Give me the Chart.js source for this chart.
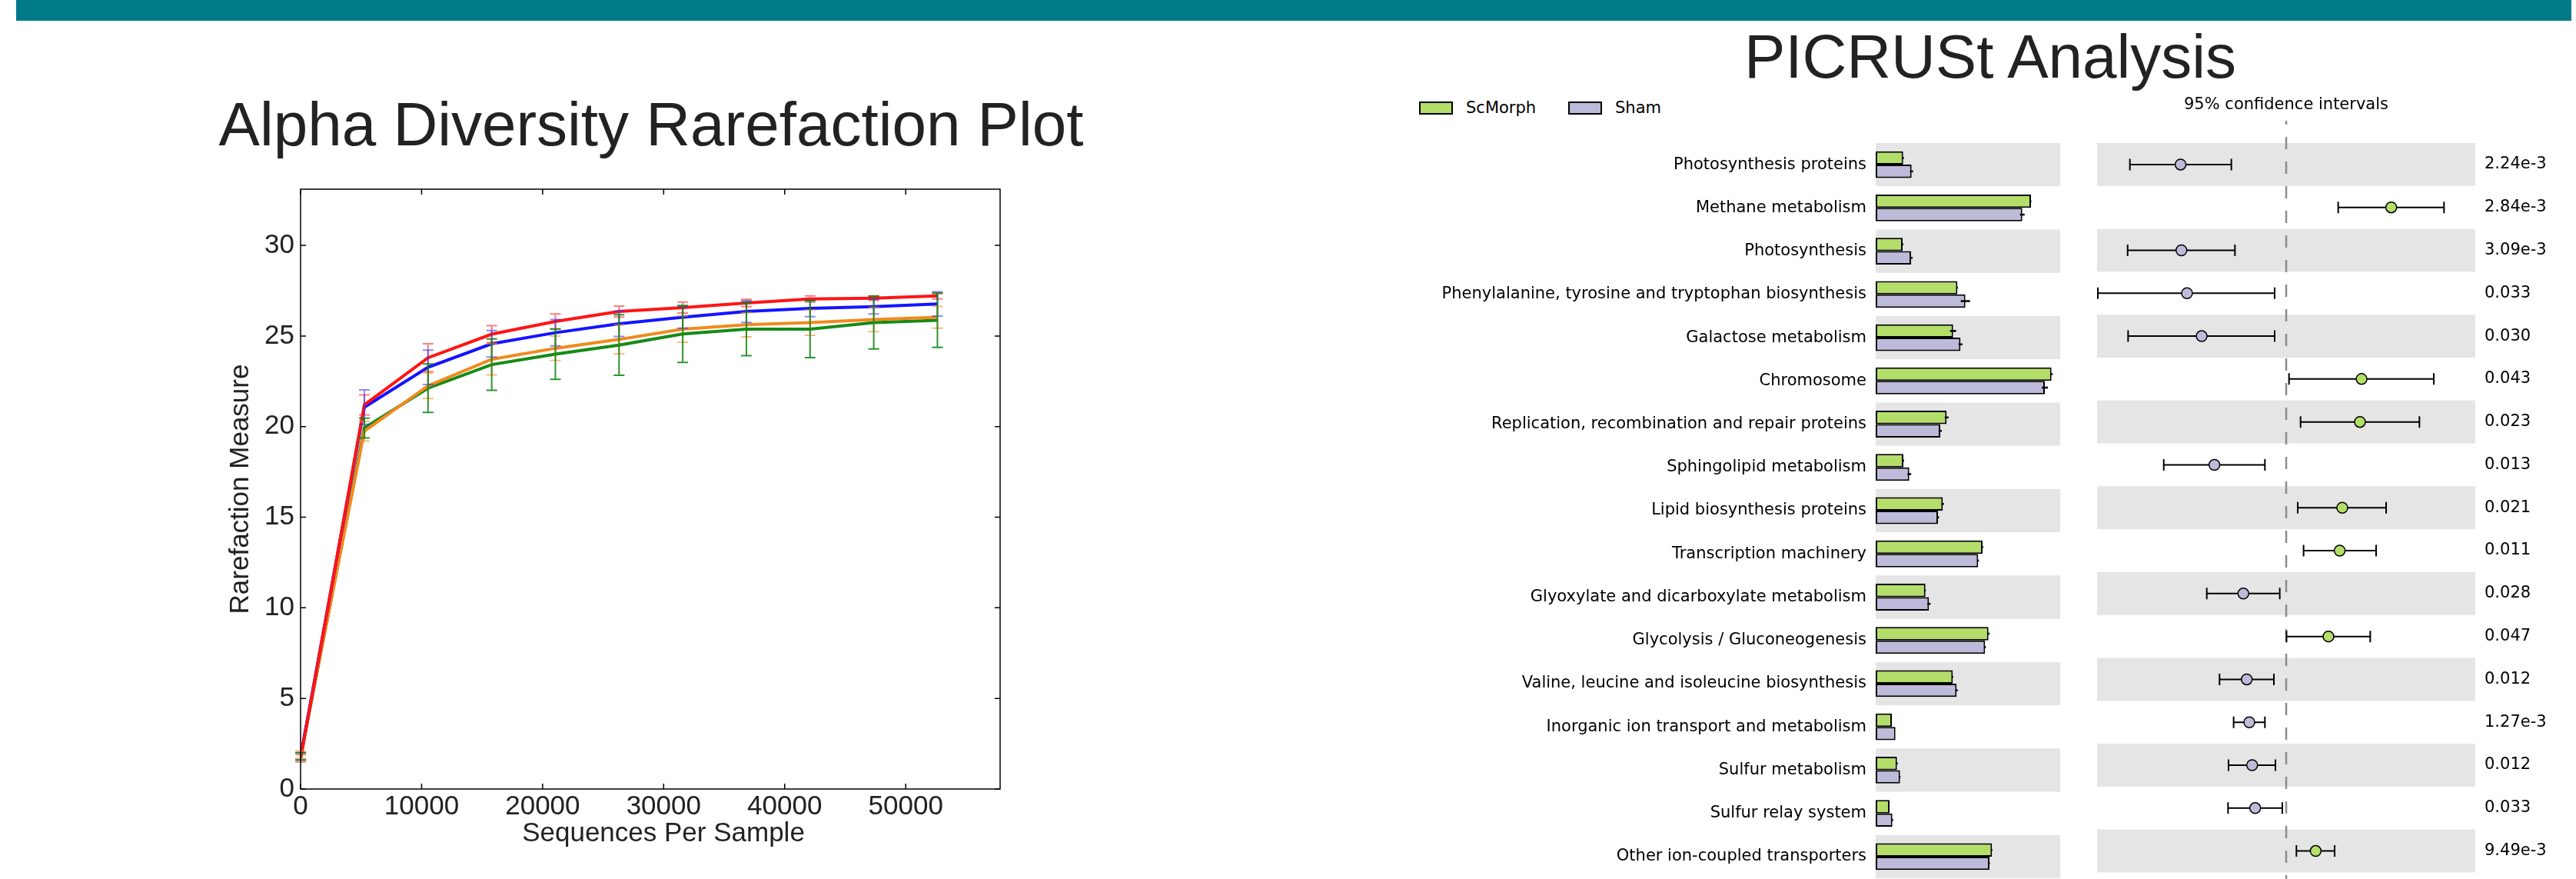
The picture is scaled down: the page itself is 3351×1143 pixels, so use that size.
<!DOCTYPE html>
<html>
<head>
<meta charset="utf-8">
<script src="https://cdn.jsdelivr.net/npm/chart.js@4.4.1/dist/chart.umd.min.js"></script>
<style>
  html, body { margin: 0; padding: 0; background: #fff; }
  body { width: 3351px; height: 1143px; position: relative; overflow: hidden; }
  .abs { position: absolute; }
  #banner { left: 21px; top: 0; width: 3324px; height: 27px; background: #007a87; }
  .bigtitle { font-family: "Liberation Sans", Arial, sans-serif; font-size: 80px; line-height: 1; color: #222; white-space: nowrap; transform: translateX(-50%); }
  .legend { top: 130px; height: 20px; display: flex; align-items: center; font-family: "DejaVu Sans", sans-serif; font-size: 21px; color: #000; white-space: nowrap; }
  .swatch { width: 44px; height: 17px; box-sizing: border-box; border: 2px solid #000; margin-right: 17px; }
  canvas { position: absolute; }
</style>
</head>
<body>
<div id="banner" class="abs"></div>
<div class="abs bigtitle" style="left:847px; top:122px;">Alpha Diversity Rarefaction Plot</div>
<div class="abs bigtitle" style="left:2589px; top:34px;">PICRUSt Analysis</div>

<div class="abs legend" style="left:1846px;"><div class="swatch" style="background:#b3de69"></div>ScMorph</div>
<div class="abs legend" style="left:2040px;"><div class="swatch" style="background:#bebada"></div>Sham</div>

<canvas id="rarefaction" width="1100" height="920" style="left:250px; top:200px;"></canvas>
<canvas id="proportions" width="900" height="1023" style="left:1780px; top:120px;"></canvas>
<canvas id="differences" width="651" height="1023" style="left:2700px; top:120px;"></canvas>

<script>
// ---------- Alpha diversity rarefaction (observed features vs. sequencing depth) ----------
const seqDepth   = [10, 5271, 10532, 15793, 21054, 26315, 31576, 36837, 42098, 47359, 52620];
const redMean    = [1.7, 21.2, 23.8, 25.1, 25.8, 26.35, 26.57, 26.82, 27.04, 27.09, 27.21];
const redSd      = [0.2, 0.55, 0.77, 0.47, 0.42, 0.3, 0.3, 0.2, 0.17, 0.12, 0.17];
const blueMean   = [1.8, 21.07, 23.27, 24.57, 25.18, 25.67, 26.03, 26.35, 26.52, 26.62, 26.77];
const blueSd     = [0.2, 0.95, 0.95, 0.73, 0.73, 0.7, 0.6, 0.6, 0.45, 0.4, 0.67];
const orangeMean = [1.9, 19.75, 22.25, 23.71, 24.32, 24.81, 25.38, 25.62, 25.74, 25.91, 26.03];
const orangeSd   = [0.2, 0.55, 0.7, 0.86, 0.67, 0.8, 0.73, 0.67, 0.7, 0.67, 0.6];
const greenMean  = [1.8, 19.92, 22.12, 23.42, 24.0, 24.5, 25.11, 25.38, 25.38, 25.74, 25.86];
const greenSd    = [0.2, 0.55, 1.34, 1.42, 1.39, 1.67, 1.57, 1.47, 1.57, 1.46, 1.49];
const depthTicks = [0, 10000, 20000, 30000, 40000, 50000];

// ---------- PICRUSt KEGG pathways: mean proportion (%) per group ----------
const pathways = [
  'Photosynthesis proteins',
  'Methane metabolism',
  'Photosynthesis',
  'Phenylalanine, tyrosine and tryptophan biosynthesis',
  'Galactose metabolism',
  'Chromosome',
  'Replication, recombination and repair proteins',
  'Sphingolipid metabolism',
  'Lipid biosynthesis proteins',
  'Transcription machinery',
  'Glyoxylate and dicarboxylate metabolism',
  'Glycolysis / Gluconeogenesis',
  'Valine, leucine and isoleucine biosynthesis',
  'Inorganic ion transport and metabolism',
  'Sulfur metabolism',
  'Sulfur relay system',
  'Other ion-coupled transporters'
];
const scMorphMean = [0.357, 2.02, 0.35, 1.063, 1.007, 2.287, 0.923, 0.36, 0.873, 1.39, 0.647, 1.467, 1.003, 0.21, 0.277, 0.18, 1.513];
const shamMean    = [0.467, 1.907, 0.46, 1.167, 1.103, 2.20, 0.84, 0.437, 0.81, 1.333, 0.693, 1.423, 1.053, 0.257, 0.317, 0.217, 1.48];
const scMorphErr  = [0.01, 0.005, 0.01, 0.005, 0.04, 0.015, 0.025, 0.01, 0.015, 0.01, 0.005, 0.015, 0.005, 0, 0.01, 0, 0.005];
const shamErr     = [0.02, 0.03, 0.02, 0.06, 0.025, 0.04, 0.02, 0.025, 0.015, 0.01, 0.02, 0.01, 0.015, 0, 0.005, 0.01, 0.005];

// Difference in mean proportions (%) with 95% confidence intervals, and p-values
const diffMean = [-0.1117, 0.1111, -0.1108, -0.1049, -0.0894, 0.0797, 0.078, -0.0759, 0.0593, 0.0566, -0.0453, 0.0447, -0.0417, -0.039, -0.036, -0.0328, 0.0312];
const diffLow  = [-0.1653, 0.055, -0.1677, -0.1992, -0.1672, 0.003, 0.0152, -0.1295, 0.0122, 0.0184, -0.084, 0.0003, -0.0705, -0.0556, -0.061, -0.0615, 0.0108];
const diffHigh = [-0.058, 0.1669, -0.0542, -0.0122, -0.0122, 0.1561, 0.1409, -0.0225, 0.1057, 0.0951, -0.0068, 0.0889, -0.013, -0.0225, -0.0114, -0.0041, 0.0512];
const pValues  = ['2.24e-3', '2.84e-3', '3.09e-3', '0.033', '0.030', '0.043', '0.023', '0.013', '0.021', '0.011', '0.028', '0.047', '0.012', '1.27e-3', '0.012', '0.033', '9.49e-3'];

const SANS = '"Liberation Sans", Arial, sans-serif';
const DEJAVU = '"DejaVu Sans", sans-serif';
const GREEN_FILL = '#b3de69';
const LAVENDER_FILL = '#bebada';
const BAND = '#e5e5e5';

// Error bars with caps, a closed frame with inward ticks, and the x-axis caption
const rarefactionDecor = {
  id: 'rarefactionDecor',
  afterDatasetsDraw(chart) {
    const { ctx, scales: { x, y } } = chart;
    ctx.save();
    ctx.lineWidth = 2;
    chart.data.datasets.forEach(ds => {
      ctx.strokeStyle = ds.errColor;
      ds.data.forEach((p, i) => {
        const px = x.getPixelForValue(p.x);
        const lo = y.getPixelForValue(p.y - ds.sd[i]);
        const hi = y.getPixelForValue(p.y + ds.sd[i]);
        ctx.beginPath();
        ctx.moveTo(px, lo); ctx.lineTo(px, hi);
        ctx.moveTo(px - 7, lo); ctx.lineTo(px + 7, lo);
        ctx.moveTo(px - 7, hi); ctx.lineTo(px + 7, hi);
        ctx.stroke();
      });
    });
    ctx.restore();
  },
  afterDraw(chart) {
    const { ctx, chartArea: a, scales: { x, y } } = chart;
    ctx.save();
    ctx.strokeStyle = '#000';
    ctx.lineWidth = 1.5;
    ctx.strokeRect(a.left, a.top, a.right - a.left, a.bottom - a.top);
    ctx.beginPath();
    x.ticks.forEach(t => {
      const px = x.getPixelForValue(t.value);
      ctx.moveTo(px, a.bottom); ctx.lineTo(px, a.bottom - 7);
      ctx.moveTo(px, a.top); ctx.lineTo(px, a.top + 7);
    });
    y.ticks.forEach(t => {
      const py = y.getPixelForValue(t.value);
      ctx.moveTo(a.left, py); ctx.lineTo(a.left + 7, py);
      ctx.moveTo(a.right, py); ctx.lineTo(a.right - 7, py);
    });
    ctx.stroke();
    // x-axis caption, set slightly right of the plot centre
    ctx.font = '35px ' + SANS;
    ctx.fillStyle = '#222';
    ctx.textAlign = 'center';
    ctx.textBaseline = 'middle';
    ctx.fillText('Sequences Per Sample', (a.left + a.right) / 2 + 17, x.bottom - 36);
    ctx.restore();
  }
};

const rareGroups = [
  { mean: redMean, sd: redSd, color: '#ff1414', err: 'rgba(255,40,40,0.6)' },
  { mean: blueMean, sd: blueSd, color: '#1414ff', err: 'rgba(40,40,255,0.55)' },
  { mean: orangeMean, sd: orangeSd, color: '#f28a1e', err: 'rgba(245,140,40,0.6)' },
  { mean: greenMean, sd: greenSd, color: '#168a16', err: 'rgba(10,130,10,0.85)' }
];

new Chart(document.getElementById('rarefaction'), {
  type: 'line',
  data: {
    datasets: rareGroups.map(g => ({
      data: seqDepth.map((d, i) => ({ x: d, y: g.mean[i] })),
      borderColor: g.color,
      borderWidth: 4,
      pointRadius: 0,
      tension: 0,
      sd: g.sd,
      errColor: g.err
    }))
  },
  options: {
    responsive: false,
    animation: false,
    devicePixelRatio: 1,
    layout: { padding: { top: 46, right: 49, left: 0, bottom: 0 } },
    plugins: { legend: { display: false }, tooltip: { enabled: false } },
    scales: {
      x: {
        type: 'linear', min: 0, max: 57800,
        afterBuildTicks: s => { s.ticks = depthTicks.map(v => ({ value: v })); },
        ticks: { callback: v => String(v), font: { family: SANS, size: 35 }, color: '#222', padding: 2, maxRotation: 0 },
        grid: { display: false, drawTicks: false },
        border: { display: false },
        afterFit: s => { s.height = 94; }
      },
      y: {
        min: 0, max: 33.1,
        ticks: { stepSize: 5, includeBounds: false, font: { family: SANS, size: 35 }, color: '#222', padding: 8 },
        grid: { display: false, drawTicks: false },
        border: { display: false },
        title: { display: true, text: 'Rarefaction Measure', font: { family: SANS, size: 35 }, color: '#222', padding: { top: 42, bottom: 0 } },
        afterFit: s => { s.width = 141; }
      }
    }
  },
  plugins: [rarefactionDecor]
});

// Alternating grey row bands behind a category axis
function drawBands(chart, yScale) {
  const { ctx, chartArea: a } = chart;
  const step = Math.abs(yScale.getPixelForValue(1) - yScale.getPixelForValue(0));
  ctx.save();
  ctx.fillStyle = BAND;
  pathways.forEach((p, i) => {
    if (i % 2 === 0) {
      const c = yScale.getPixelForValue(i);
      ctx.fillRect(a.left, c - step / 2, a.right - a.left, step);
    }
  });
  ctx.restore();
}

// Row-label axes: the rows fill the plot height exactly, so no extra label padding is reserved
function fixRowAxis(width) {
  return s => { s.width = width; s.paddingTop = 0; s.paddingBottom = 0; };
}

const proportionDecor = {
  id: 'proportionDecor',
  beforeDatasetsDraw(chart) { drawBands(chart, chart.scales.y); },
  afterDatasetsDraw(chart) {
    const { ctx, scales: { x } } = chart;
    ctx.save();
    ctx.strokeStyle = '#000';
    ctx.lineWidth = 2.5;
    chart.data.datasets.forEach((ds, di) => {
      chart.getDatasetMeta(di).data.forEach((bar, i) => {
        const e = ds.err[i];
        if (!e) return;
        ctx.beginPath();
        ctx.moveTo(x.getPixelForValue(ds.data[i] - e), bar.y);
        ctx.lineTo(x.getPixelForValue(ds.data[i] + e), bar.y);
        ctx.stroke();
      });
    });
    ctx.restore();
  }
};

new Chart(document.getElementById('proportions'), {
  type: 'bar',
  data: {
    labels: pathways,
    datasets: [
      { label: 'ScMorph', data: scMorphMean, err: scMorphErr, backgroundColor: GREEN_FILL, borderColor: '#000', borderWidth: 2, borderSkipped: false },
      { label: 'Sham', data: shamMean, err: shamErr, backgroundColor: LAVENDER_FILL, borderColor: '#000', borderWidth: 2, borderSkipped: false }
    ]
  },
  options: {
    indexAxis: 'y',
    responsive: false,
    animation: false,
    devicePixelRatio: 1,
    categoryPercentage: 0.62,
    barPercentage: 1,
    layout: { padding: { top: 66, bottom: 1, left: 0, right: 0 } },
    plugins: { legend: { display: false }, tooltip: { enabled: false } },
    scales: {
      x: { display: false, min: 0, max: 2.4 },
      y: {
        ticks: { font: { family: DEJAVU, size: 21 }, color: '#000', padding: 12, autoSkip: false },
        grid: { display: false, drawTicks: false },
        border: { display: false },
        afterFit: fixRowAxis(660)
      }
    }
  },
  plugins: [proportionDecor]
});

const differenceDecor = {
  id: 'differenceDecor',
  beforeDatasetsDraw(chart) {
    const { ctx, chartArea: a, scales: { x, y } } = chart;
    drawBands(chart, y);
    ctx.save();
    // zero reference line
    const zx = x.getPixelForValue(0);
    ctx.strokeStyle = '#8c8c8c';
    ctx.lineWidth = 2.5;
    ctx.setLineDash([16, 16]);
    ctx.lineDashOffset = 11;
    ctx.beginPath();
    ctx.moveTo(zx, a.top - 29);
    ctx.lineTo(zx, chart.height);
    ctx.stroke();
    ctx.setLineDash([]);
    // confidence intervals
    ctx.strokeStyle = '#000';
    ctx.lineWidth = 2;
    diffMean.forEach((m, i) => {
      const py = y.getPixelForValue(i);
      const l = x.getPixelForValue(diffLow[i]);
      const h = x.getPixelForValue(diffHigh[i]);
      ctx.beginPath();
      ctx.moveTo(l, py); ctx.lineTo(h, py);
      ctx.moveTo(l, py - 7.5); ctx.lineTo(l, py + 7.5);
      ctx.moveTo(h, py - 7.5); ctx.lineTo(h, py + 7.5);
      ctx.stroke();
    });
    ctx.restore();
  },
  afterDraw(chart) {
    const { ctx, scales: { x } } = chart;
    ctx.save();
    ctx.font = '21px ' + DEJAVU;
    ctx.fillStyle = '#000';
    ctx.textAlign = 'center';
    ctx.textBaseline = 'middle';
    ctx.fillText('95% confidence intervals', x.getPixelForValue(0), 17);
    ctx.restore();
  }
};

new Chart(document.getElementById('differences'), {
  type: 'scatter',
  data: {
    datasets: [{
      data: diffMean.map((v, i) => ({ x: v, y: pathways[i] })),
      pointRadius: 7,
      pointBorderWidth: 1.5,
      pointBorderColor: '#000',
      pointBackgroundColor: diffMean.map(v => v > 0 ? GREEN_FILL : LAVENDER_FILL)
    }]
  },
  options: {
    responsive: false,
    animation: false,
    devicePixelRatio: 1,
    layout: { padding: { top: 66, bottom: 1, left: 28, right: 0 } },
    plugins: { legend: { display: false }, tooltip: { enabled: false } },
    scales: {
      x: { type: 'linear', display: false, min: -0.2, max: 0.2 },
      y: { type: 'category', labels: pathways, offset: true, display: false },
      p: {
        type: 'category', position: 'right', labels: pValues, offset: true,
        ticks: { font: { family: DEJAVU, size: 21 }, color: '#000', padding: 12, autoSkip: false },
        grid: { display: false, drawTicks: false },
        border: { display: false },
        afterFit: fixRowAxis(131)
      }
    }
  },
  plugins: [differenceDecor]
});
</script>
</body>
</html>
